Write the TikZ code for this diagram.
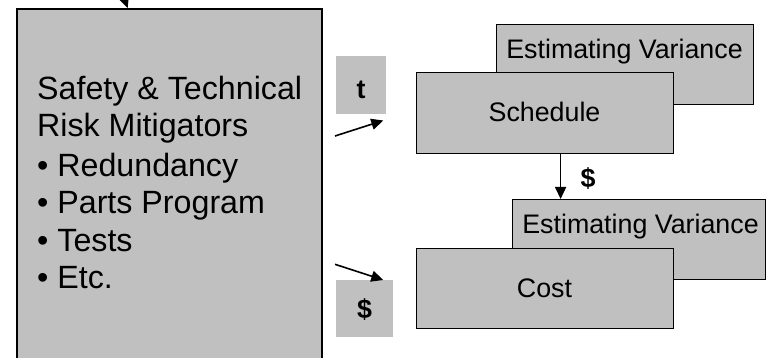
\documentclass[tikz,border=0pt]{standalone}
\usepackage{fontspec}
\setmainfont{Liberation Sans}
\usetikzlibrary{arrows.meta}

\definecolor{boxgray}{HTML}{C0C0C0}

\tikzset{
  panel/.style={draw=black, fill=boxgray, line width=1.2pt, inner sep=0pt, anchor=north west},
  bigpanel/.style={panel, line width=1.8pt},
  tag/.style={fill=boxgray, inner sep=0pt, anchor=north west},
  bodytext/.style={inner sep=0pt, font=\fontsize{32.2}{37.5}\selectfont, anchor=base west},
  boxtext/.style={inner sep=0pt, font=\fontsize{26.8}{30}\selectfont, anchor=base},
  tagtext/.style={inner sep=0pt, font=\fontsize{26.8}{30}\selectfont\bfseries, anchor=base},
  arr/.style={line width=1.6pt, -{Triangle[length=12pt,width=11pt]}}
}

\begin{document}
\begin{tikzpicture}[x=1pt, y=-1pt]
  \useasboundingbox (0,0) rectangle (766,358);
  \clip (0,0) rectangle (766,358);

  % left panel: risk mitigators
  \node[bigpanel, minimum width=305, minimum height=370] (mitig) at (16,8) {};
  \node[bodytext] (m1) at (37,99.3)  {Safety \& Technical};
  \node[bodytext] (m2) at (37,136.7) {Risk Mitigators};
  \node[bodytext] (m3) at (37,176.7) {• Redundancy};
  \node[bodytext] (m4) at (37,213.5) {• Parts Program};
  \node[bodytext] (m5) at (37,251.5) {• Tests};
  \node[bodytext] (m6) at (37,288.5) {• Etc.};

  % incoming arrow at the top of the panel
  \coordinate (topsrc) at (116.8,-22);
  \draw[arr] (topsrc) -- ([xshift=111.7pt]mitig.north west);

  % time and cost tags
  \node[tag, minimum width=50, minimum height=58] (ttag) at (336,56) {};
  \node[tagtext] (ttext) at (361,98.3) {t};
  \node[tag, minimum width=57, minimum height=57] (dtag) at (336,280) {};
  \node[tagtext] (dtext) at (364.5,318) {\$};

  \coordinate (tsrc) at (335,136);
  \coordinate (ttip) at (383.3,120.5);
  \draw[arr] (tsrc) -- (ttip);
  \coordinate (dsrc) at (335,264.3);
  \coordinate (dtip) at (383.3,280);
  \draw[arr] (dsrc) -- (dtip);

  % schedule stack
  \node[panel, minimum width=257, minimum height=80] (ev1) at (496,24) {};
  \node[boxtext] (ev1t) at (624.5,58.3) {Estimating Variance};
  \node[panel, minimum width=257, minimum height=81] (sched) at (416,72) {};
  \node[boxtext] (schedt) at (544.5,121.7) {Schedule};

  % cost stack
  \node[panel, minimum width=253, minimum height=80] (ev2) at (512,199) {};
  \node[boxtext] (ev2t) at (640.5,233.3) {Estimating Variance};
  \node[panel, minimum width=257, minimum height=80] (cost) at (416,248) {};
  \node[boxtext] (costt) at (544.5,297.3) {Cost};

  % schedule drives cost
  \draw[arr] ([xshift=15.5pt]sched.south) -- ([xshift=15.5pt]sched.south |- ev2.north);
  \node[tagtext] (flowd) at (588,188) {\$};
\end{tikzpicture}
\end{document}
